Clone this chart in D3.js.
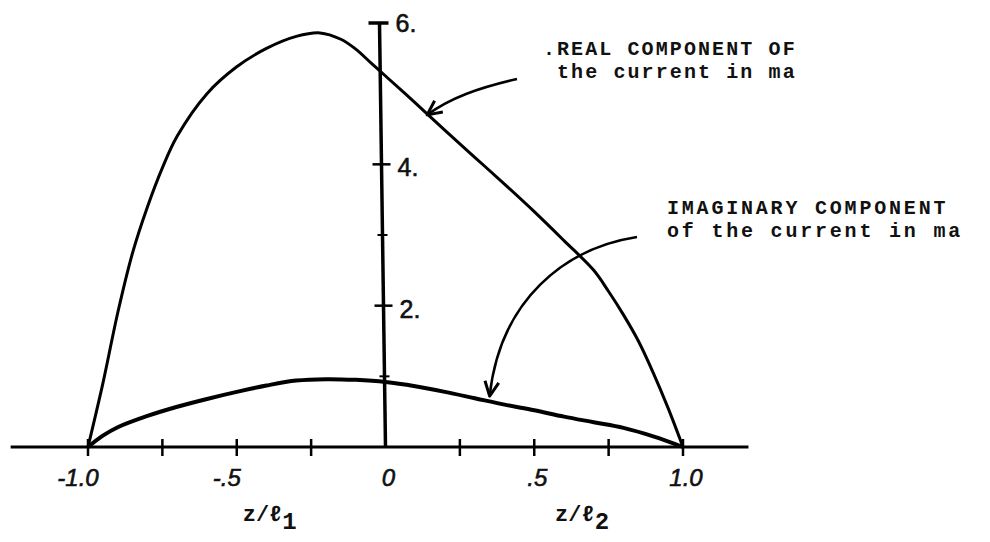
<html>
<head>
<script src="https://d3js.org/d3.v7.min.js"></script>
<style>
    body { margin: 0; background: #fff; }
    .type { font-family: "Liberation Mono", "DejaVu Sans Mono", monospace; font-weight: bold; fill: #111; }
    .hand { font-family: "Liberation Sans", "DejaVu Sans", sans-serif; fill: #111; stroke: #111; stroke-width: 0.6; }
</style>
</head>
<body>
<div id="chart"></div>
<script>
// z/l values
var zReal = [-1, -0.95, -0.9, -0.85, -0.8, -0.75, -0.7, -0.6, -0.5, -0.4, -0.3, -0.22, -0.15, -0.1, -0.05, 0,
             0.1, 0.2, 0.3, 0.4, 0.5, 0.6, 0.7, 0.75, 0.8, 0.85, 0.9, 0.95, 1];
var realVals = [0, 0.9, 1.9, 2.75, 3.4, 3.95, 4.4, 5.0, 5.38, 5.64, 5.81, 5.86, 5.77, 5.63, 5.44, 5.25,
                4.87, 4.48, 4.1, 3.72, 3.33, 2.92, 2.5, 2.2, 1.87, 1.5, 1.05, 0.55, 0];

var zImag = [-1, -0.95, -0.9, -0.8, -0.7, -0.6, -0.5, -0.4, -0.3, -0.2, -0.1, 0,
             0.1, 0.2, 0.3, 0.4, 0.5, 0.6, 0.7, 0.8, 0.9, 1];
var imagVals = [0, 0.16, 0.28, 0.44, 0.57, 0.68, 0.78, 0.87, 0.94, 0.96, 0.95, 0.92,
                0.86, 0.78, 0.69, 0.6, 0.52, 0.43, 0.35, 0.27, 0.15, 0];

var xTicks = [-1, -0.75, -0.5, -0.25, 0.25, 0.5, 0.75, 1];
var xLabelVals = [-1, -0.5, 0, 0.5, 1];
var xLabelText = ["-1.0", "-.5", "0", ".5", "1.0"];
var yMajor = [2, 4];
var yMinor = [1, 3];
var yLabelVals = [2, 4, 6];
var yLabelText = ["2.", "4.", "6."];

var width = 990, height = 542;

var x = d3.scaleLinear().domain([-1, 1]).range([88, 683]);
var y = d3.scaleLinear().domain([0, 6]).range([447, 23]);

var svg = d3.select("#chart").append("svg")
    .attr("width", width)
    .attr("height", height);

// x axis line
svg.append("line")
    .attr("x1", x(-1.26)).attr("x2", x(1.22))
    .attr("y1", y(0)).attr("y2", y(0))
    .attr("stroke", "#000").attr("stroke-width", 3);

svg.selectAll(".xtick").data(xTicks).enter().append("line")
    .attr("x1", function(d) { return x(d); })
    .attr("x2", function(d) { return x(d); })
    .attr("y1", y(0) - 8).attr("y2", y(0) + 9)
    .attr("stroke", "#000").attr("stroke-width", 2.5);

// y axis (drawn a little slanted like the hand-drawn original)
function yAxisX(v) { return x(0) - v; }

svg.append("line")
    .attr("x1", yAxisX(0)).attr("x2", yAxisX(6))
    .attr("y1", y(0)).attr("y2", y(6))
    .attr("stroke", "#000").attr("stroke-width", 3.5);

svg.append("line")
    .attr("x1", yAxisX(6) - 11).attr("x2", yAxisX(6) + 9)
    .attr("y1", y(6)).attr("y2", y(6))
    .attr("stroke", "#000").attr("stroke-width", 3.5);

svg.selectAll(".ymaj").data(yMajor).enter().append("line")
    .attr("x1", function(d) { return yAxisX(d) - 9; })
    .attr("x2", function(d) { return yAxisX(d) + 9; })
    .attr("y1", function(d) { return y(d); })
    .attr("y2", function(d) { return y(d); })
    .attr("stroke", "#000").attr("stroke-width", 2.5);

svg.selectAll(".ymin").data(yMinor).enter().append("line")
    .attr("x1", function(d) { return yAxisX(d) - 5; })
    .attr("x2", function(d) { return yAxisX(d) + 5; })
    .attr("y1", function(d) { return y(d); })
    .attr("y2", function(d) { return y(d); })
    .attr("stroke", "#000").attr("stroke-width", 2);

svg.selectAll(".ylab").data(yLabelVals).enter().append("text")
    .attr("class", "hand")
    .attr("x", function(d) { return yAxisX(d) + 16; })
    .attr("y", function(d) { return y(d) + (d === 6 ? 9 : 12); })
    .attr("font-size", 25)
    .text(function(d, i) { return yLabelText[i]; });

svg.selectAll(".xlab").data(xLabelVals).enter().append("text")
    .attr("class", "hand")
    .attr("x", function(d) { return x(d) + (d < 0 ? -10 : 3); })
    .attr("y", y(0) + 39)
    .attr("text-anchor", "middle")
    .attr("font-size", 24)
    .style("font-style", "italic")
    .text(function(d, i) { return xLabelText[i]; });

// curves
var line = d3.line()
    .x(function(d) { return x(d[0]); })
    .y(function(d) { return y(d[1]); })
    .curve(d3.curveCatmullRom);

svg.append("path")
    .attr("d", line(d3.zip(zReal, realVals)))
    .attr("fill", "none").attr("stroke", "#000").attr("stroke-width", 3);

svg.append("path")
    .attr("d", line(d3.zip(zImag, imagVals)))
    .attr("fill", "none").attr("stroke", "#000").attr("stroke-width", 4);

// arrows
function arrowHead(tip, from) {
    var a = Math.atan2(tip[1] - from[1], tip[0] - from[0]);
    var L = 16, s = 0.45;
    var p1 = [tip[0] - L * Math.cos(a - s), tip[1] - L * Math.sin(a - s)];
    var p2 = [tip[0] - L * Math.cos(a + s), tip[1] - L * Math.sin(a + s)];
    svg.append("path")
        .attr("d", "M" + p1 + "L" + tip + "L" + p2)
        .attr("fill", "none").attr("stroke", "#000").attr("stroke-width", 3)
        .attr("stroke-linejoin", "round");
}

var realTip = [x(0.14), y(4.7)];
svg.append("path")
    .attr("d", "M517,79 C478,88 450,98 " + realTip)
    .attr("fill", "none").attr("stroke", "#000").attr("stroke-width", 2.5);
arrowHead(realTip, [450, 98]);

var imagTip = [x(0.35), y(0.72)];
svg.append("path")
    .attr("d", "M637,237 C565,248 500,300 " + imagTip)
    .attr("fill", "none").attr("stroke", "#000").attr("stroke-width", 2.5);
arrowHead(imagTip, [500, 330]);

// annotations
var realNote = svg.append("text").attr("class", "type").attr("font-size", 20)
    .attr("letter-spacing", 2.1);
realNote.append("tspan").attr("x", 543).attr("y", 55).text(".");
realNote.append("tspan").attr("x", 557).attr("y", 55).text("REAL COMPONENT OF");
realNote.append("tspan").attr("x", 557).attr("y", 78).text("the current in ma");

var imagNote = svg.append("text").attr("class", "type").attr("font-size", 20)
    .attr("letter-spacing", 2.8);
imagNote.append("tspan").attr("x", 667).attr("y", 214).text("IMAGINARY COMPONENT");
imagNote.append("tspan").attr("x", 667).attr("y", 237).text("of the current in ma");

// axis titles
function axisTitle(px, sub) {
    var t = svg.append("text").attr("class", "type").attr("font-size", 22)
        .attr("x", px).attr("y", 521);
    t.append("tspan").text("z/\u2113");
    t.append("tspan").attr("dy", 8).attr("font-size", 24).text(sub);
}
axisTitle(x(-0.48), "1");
axisTitle(x(0.57), "2");
</script>
</body>
</html>
